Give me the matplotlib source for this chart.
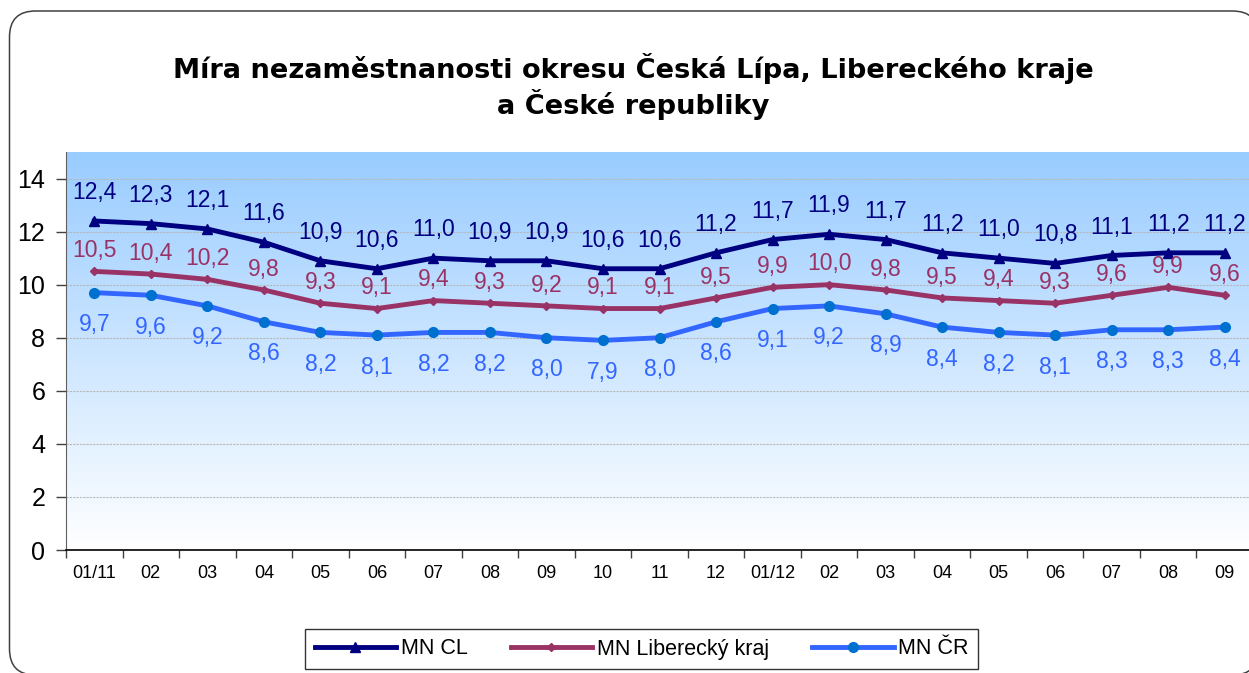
import numpy as np
import matplotlib
matplotlib.use("Agg")
import matplotlib.pyplot as plt
from matplotlib.patches import FancyBboxPatch
from matplotlib.colors import LinearSegmentedColormap
from matplotlib.transforms import IdentityTransform

plt.rcParams['font.family'] = ['Liberation Sans', 'DejaVu Sans']

categories = ["01/11", "02", "03", "04", "05", "06", "07", "08", "09", "10", "11", "12",
              "01/12", "02", "03", "04", "05", "06", "07", "08", "09"]
mn_cl = [12.4, 12.3, 12.1, 11.6, 10.9, 10.6, 11.0, 10.9, 10.9, 10.6, 10.6, 11.2,
         11.7, 11.9, 11.7, 11.2, 11.0, 10.8, 11.1, 11.2, 11.2]
mn_lk = [10.5, 10.4, 10.2, 9.8, 9.3, 9.1, 9.4, 9.3, 9.2, 9.1, 9.1, 9.5,
         9.9, 10.0, 9.8, 9.5, 9.4, 9.3, 9.6, 9.9, 9.6]
mn_cr = [9.7, 9.6, 9.2, 8.6, 8.2, 8.1, 8.2, 8.2, 8.0, 7.9, 8.0, 8.6,
         9.1, 9.2, 8.9, 8.4, 8.2, 8.1, 8.3, 8.3, 8.4]
series_names = ["MN CL", "MN Liberecký kraj", "MN ČR"]
yticks = [0, 2, 4, 6, 8, 10, 12, 14]

W, H = 1249, 673
fig = plt.figure(figsize=(W / 100, H / 100), dpi=100)

# outer rounded frame (pixel coordinates, origin bottom-left)
frame = FancyBboxPatch((9.5, H - 675), 1249, 664,
                       boxstyle="round,pad=0,rounding_size=26",
                       transform=IdentityTransform(), facecolor="white",
                       edgecolor="#404040", linewidth=1.1, zorder=0)
fig.patches.append(frame)

title_font = ['DejaVu Sans']
fig.text(633 / W, 1 - 68 / H, "Míra nezaměstnanosti okresu Česká Lípa, Libereckého kraje",
         ha="center", va="center", fontsize=19.6, fontweight="bold", family=title_font)
fig.text(633 / W, 1 - 104 / H, "a České republiky",
         ha="center", va="center", fontsize=19.6, fontweight="bold", family=title_font)

left, right, top, bottom = 66, 1253, 152, 550
ax = fig.add_axes([left / W, 1 - bottom / H, (right - left) / W, (bottom - top) / H])
ax.set_zorder(2)
x = np.arange(len(categories))
ax.set_xlim(-0.5, len(categories) - 0.5)
ax.set_ylim(0, 15)

# gradient background
cmap = LinearSegmentedColormap.from_list("bg", ["#FFFFFF", "#99CCFF"])
grad = np.linspace(0, 1, 256).reshape(-1, 1)
ax.imshow(grad, cmap=cmap, origin="lower", aspect="auto",
          extent=[-0.5, len(categories) - 0.5, 0, 15], zorder=0)

for yv in yticks[1:]:
    ax.axhline(yv, color="#B8B8B8", lw=0.8, ls=(0, (2, 1)), zorder=1)

c_cl, c_lk, c_cr = "#000080", "#993366", "#3366FF"
ax.plot(x, mn_cl, color=c_cl, lw=3.5, marker="^", ms=7, zorder=5, label=series_names[0])
ax.plot(x, mn_lk, color=c_lk, lw=3.5, marker="D", ms=4.5, zorder=4, label=series_names[1])
ax.plot(x, mn_cr, color=c_cr, lw=3.5, marker="o", ms=7, mfc="#0070D0", mec="#0070D0",
        zorder=3, label=series_names[2])

def fmt(v):
    return f"{v:.1f}".replace(".", ",")

for xi, v in zip(x, mn_cl):
    ax.annotate(fmt(v), (xi, v), xytext=(0, 20.5), textcoords="offset points",
                ha="center", va="center", fontsize=16.5, color=c_cl, zorder=6)
for xi, v in zip(x, mn_lk):
    ax.annotate(fmt(v), (xi, v), xytext=(0, 15), textcoords="offset points",
                ha="center", va="center", fontsize=16.5, color=c_lk, zorder=6)
for xi, v in zip(x, mn_cr):
    ax.annotate(fmt(v), (xi, v), xytext=(0, -23), textcoords="offset points",
                ha="center", va="center", fontsize=16.5, color=c_cr, zorder=6)

ax.set_yticks(yticks)
ax.set_yticklabels([str(t) for t in yticks], fontsize=18)
ax.tick_params(axis="y", length=7, width=1, color="#404040", pad=8)

ax.set_xticks(np.arange(-0.5, len(categories), 1.0))
ax.set_xticklabels([])
ax.tick_params(axis="x", which="major", length=6, width=1, color="#404040")
ax.set_xticks(x, minor=True)
ax.set_xticklabels(categories, minor=True, fontsize=13)
ax.tick_params(axis="x", which="minor", length=0, pad=11)

for s in ["top", "right"]:
    ax.spines[s].set_visible(False)
ax.spines["left"].set_color("#606060")
ax.spines["bottom"].set_color("black")
ax.spines["bottom"].set_linewidth(1.2)

leg = fig.legend(loc="center", bbox_to_anchor=((308 + 975) / 2 / W, 1 - 649 / H),
                 ncol=3, frameon=True, fancybox=False, fontsize=15.5,
                 handlelength=3.8, handletextpad=0.2, columnspacing=2.0,
                 borderpad=0.45, edgecolor="black")
leg.get_frame().set_linewidth(1.0)
leg.set_zorder(3)

fig.savefig("out.png", dpi=100)
